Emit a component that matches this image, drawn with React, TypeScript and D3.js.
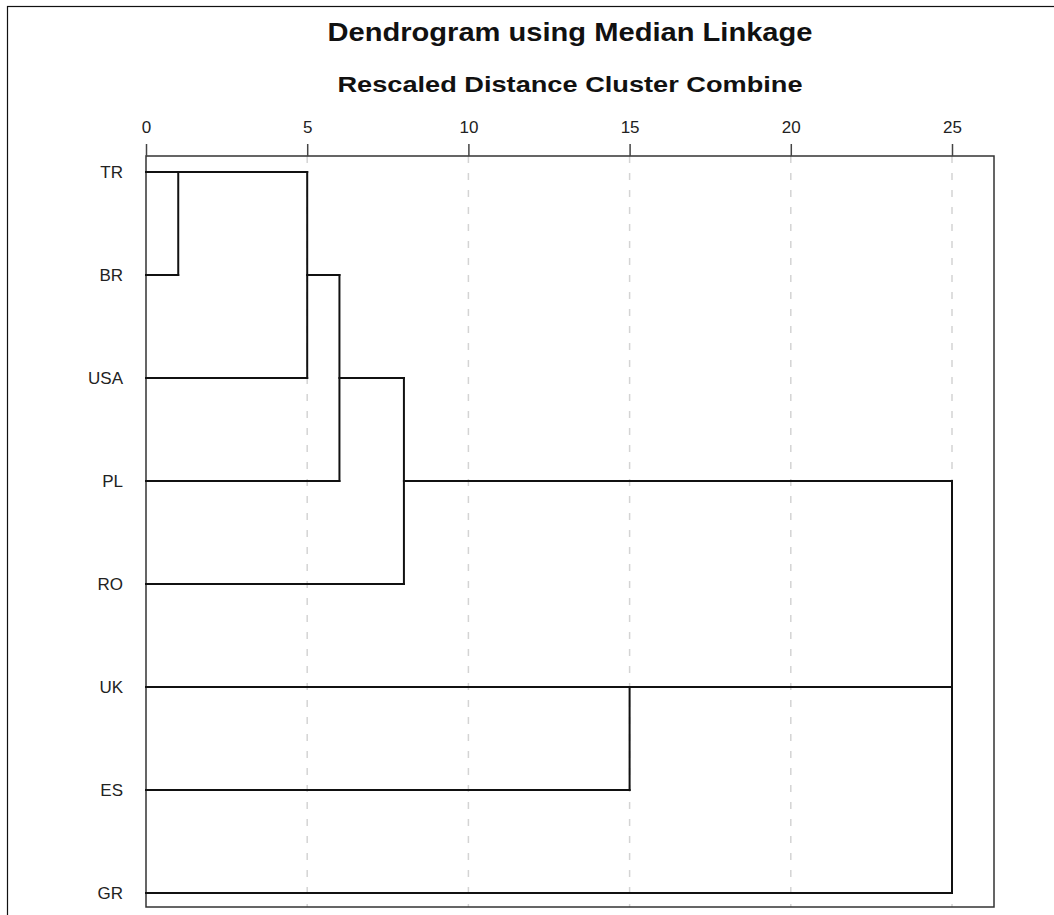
import React, { useEffect, useRef } from 'react';
import * as d3 from 'd3';

// leaves in display order (top to bottom)
const leaves = ['TR', 'BR', 'USA', 'PL', 'RO', 'UK', 'ES', 'GR'];

// agglomeration schedule: nodes 0..7 are the leaves, each merge creates node 8, 9, ...
const mergeA = [0, 8, 9, 10, 5, 11, 13];
const mergeB = [1, 2, 3, 4, 6, 12, 7];
const mergeDist = [1, 5, 6, 8, 15, 25, 25];

const tickValues = [0, 5, 10, 15, 20, 25];

const title = 'Dendrogram using Median Linkage';
const subtitle = 'Rescaled Distance Cluster Combine';

const FONT = '"Liberation Sans", Arial, sans-serif';

const App = () => {
    const svgRef = useRef<SVGSVGElement>(null);

    useEffect(() => {
        const svg = d3.select(svgRef.current);
        svg.selectAll('*').remove();

        const width = 1054;
        const height = 915;
        const box = { left: 146, top: 156, right: 994, bottom: 907 };

        const x = d3.scaleLinear().domain([0, 25]).range([146, 952]);
        const y = d3.scaleLinear().domain([0, leaves.length - 1]).range([172, 893]);

        // outer frame (runs off the right/bottom edge)
        svg.append('rect')
            .attr('x', 7.5).attr('y', 6.5)
            .attr('width', width + 20).attr('height', height + 20)
            .attr('fill', 'white')
            .attr('stroke', '#111').attr('stroke-width', 1.2);

        // titles
        svg.append('text')
            .attr('x', (box.left + box.right) / 2).attr('y', 41)
            .attr('text-anchor', 'middle')
            .attr('font-family', FONT).attr('font-weight', 'bold')
            .attr('font-size', 26)
            .attr('textLength', 485).attr('lengthAdjust', 'spacingAndGlyphs')
            .attr('fill', '#111')
            .text(title);

        svg.append('text')
            .attr('x', (box.left + box.right) / 2).attr('y', 92)
            .attr('text-anchor', 'middle')
            .attr('font-family', FONT).attr('font-weight', 'bold')
            .attr('font-size', 22)
            .attr('textLength', 465).attr('lengthAdjust', 'spacingAndGlyphs')
            .attr('fill', '#111')
            .text(subtitle);

        // dashed gridlines
        svg.append('g')
            .selectAll('line')
            .data(tickValues.filter(d => d > 0))
            .enter()
            .append('line')
            .attr('x1', d => x(d)).attr('x2', d => x(d))
            .attr('y1', box.top).attr('y2', box.bottom)
            .attr('stroke', '#d4d4d4')
            .attr('stroke-width', 1.5)
            .attr('stroke-dasharray', '7,10');

        // plot box
        svg.append('rect')
            .attr('x', box.left).attr('y', box.top)
            .attr('width', box.right - box.left).attr('height', box.bottom - box.top)
            .attr('fill', 'none')
            .attr('stroke', '#333').attr('stroke-width', 1.5);

        // top axis
        const axis = d3.axisTop(x)
            .tickValues(tickValues)
            .tickSize(12)
            .tickPadding(11)
            .tickFormat(d3.format('d'));

        const ag = svg.append('g')
            .attr('transform', `translate(0,${box.top})`)
            .call(axis);
        ag.select('.domain').remove();
        ag.selectAll('.tick line').attr('stroke', '#444').attr('stroke-width', 1.5);
        ag.selectAll('.tick text')
            .attr('font-family', FONT)
            .attr('font-size', 17)
            .attr('fill', '#222');

        // leaf labels
        svg.append('g')
            .selectAll('text')
            .data(leaves)
            .enter()
            .append('text')
            .attr('x', 123)
            .attr('y', (d, i) => y(i) + 6)
            .attr('text-anchor', 'end')
            .attr('font-family', FONT)
            .attr('font-size', 17)
            .attr('fill', '#222')
            .text(d => d);

        // compute node rows and heights
        const rows: number[] = leaves.map((d, i) => i);
        const dists: number[] = leaves.map(() => 0);
        const segs: [number, number, number, number][] = [];
        mergeA.forEach((a, k) => {
            const b = mergeB[k];
            const dd = mergeDist[k];
            segs.push([x(dists[a]), y(rows[a]), x(dd), y(rows[a])]);
            segs.push([x(dists[b]), y(rows[b]), x(dd), y(rows[b])]);
            segs.push([x(dd), y(rows[a]), x(dd), y(rows[b])]);
            rows.push(Math.floor((rows[a] + rows[b]) / 2));
            dists.push(dd);
        });

        svg.append('g')
            .selectAll('line')
            .data(segs.filter(s => s[0] !== s[2] || s[1] !== s[3]))
            .enter()
            .append('line')
            .attr('x1', d => d[0]).attr('y1', d => d[1])
            .attr('x2', d => d[2]).attr('y2', d => d[3])
            .attr('stroke', '#111')
            .attr('stroke-width', 2)
            .attr('stroke-linecap', 'square');
    }, []);

    return (
        <svg
            ref={svgRef}
            width={1054}
            height={915}
            style={{ position: 'absolute', left: 0, top: 0, display: 'block' }}
        ></svg>
    );
};

export default App;
